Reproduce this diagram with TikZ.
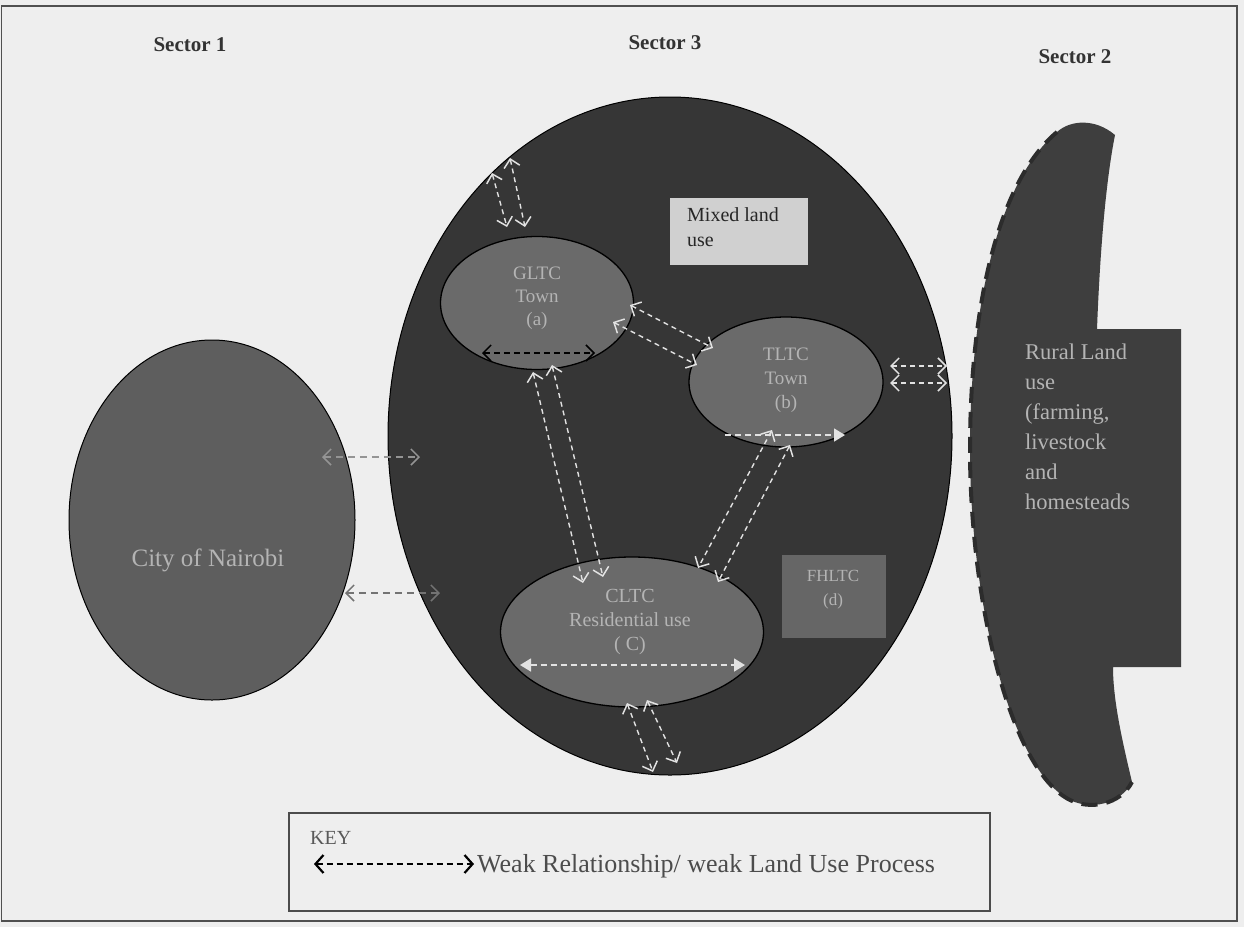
\documentclass[tikz,border=0pt]{standalone}
\usepackage{fontspec}
\setmainfont{Liberation Serif}
\usetikzlibrary{shapes.geometric,arrows.meta}

\definecolor{paper}{HTML}{EEEEEE}
\definecolor{framecol}{HTML}{505050}
\definecolor{cityfill}{HTML}{5E5E5E}
\definecolor{zonefill}{HTML}{363636}
\definecolor{townfill}{HTML}{6A6A6A}
\definecolor{ruralfill}{HTML}{3E3E3E}
\definecolor{ruraledge}{HTML}{2C2C2C}
\definecolor{mixfill}{HTML}{D0D0D0}
\definecolor{fhfill}{HTML}{666666}
\definecolor{lighttext}{HTML}{B4B4B4}
\definecolor{labeltext}{HTML}{333333}
\definecolor{arrw}{HTML}{E2E2E2}

\tikzset{
  sectorlbl/.style={font=\bfseries\fontsize{21}{25}\selectfont, text=labeltext},
  area/.style={ellipse, draw=black, line width=1pt, inner sep=0pt},
  town/.style={area, fill=townfill, line width=1.3pt},
  lighttxt/.style={text=lighttext, align=center, inner sep=0pt},
  barb/.tip={Straight Barb[length=8pt,width=16pt,line width=1.5pt]},
  wlink/.style={draw=arrw, line width=1.4pt, dash pattern=on 5pt off 4pt, barb-barb},
  glink/.style={line width=1.8pt, dash pattern=on 7pt off 5pt, barb-barb},
  blink/.style={draw=black, line width=1.6pt, dash pattern=on 6pt off 4pt, barb-barb},
  solidtip/.tip={Triangle[length=11pt,width=13pt]},
}

\begin{document}
\begin{tikzpicture}[x=1pt,y=-1pt]
  \useasboundingbox (0,0) rectangle (1244,927);
  \fill[paper] (0,0) rectangle (1244,927);
  \draw[framecol, line width=1.5pt] (1.5,6) rectangle (1237,921);

  % sector headings
  \node[sectorlbl] (s1) at (190,45) {Sector 1};
  \node[sectorlbl] (s3) at (665,43) {Sector 3};
  \node[sectorlbl] (s2) at (1075,57) {Sector 2};

  % sector 1: the city
  \node[area, fill=cityfill, minimum width=286pt, minimum height=360pt] (city) at (212,520) {};
  \node[lighttxt, font=\fontsize{25}{30}\selectfont] (citytxt) at (208,560) {City of Nairobi};

  % sector 3: the peri-urban zone
  \node[area, fill=zonefill, minimum width=564pt, minimum height=678pt] (zone) at (670,436) {};

  % sector 2: rural land, crescent with a tab
  \fill[ruralfill] (1115,135) .. controls (1095,118) and (1070,120) .. (1057,132)
      .. controls (1000,180) and (970,300) .. (970,450)
      .. controls (970,600) and (1010,770) .. (1070,800)
      .. controls (1090,810) and (1120,805) .. (1132,782)
      .. controls (1122,740) and (1113,700) .. (1113,667)
      -- (1181,667) -- (1181,329) -- (1097,329)
      .. controls (1100,250) and (1106,180) .. (1115,135) -- cycle;
  \draw[ruraledge, line width=4pt, dash pattern=on 16pt off 9pt]
      (1057,132) .. controls (1000,180) and (970,300) .. (970,450)
      .. controls (970,600) and (1010,770) .. (1070,800)
      .. controls (1090,810) and (1120,805) .. (1132,782);
  \node[text=lighttext, align=left, inner sep=0pt, anchor=north west,
        font=\fontsize{22.5}{30}\selectfont] (ruraltxt) at (1025,344)
      {Rural Land\\use\\(farming,\\livestock\\and\\homesteads};

  % towns within sector 3
  \node[town, minimum width=193pt, minimum height=133pt] (gltc) at (537,303) {};
  \node[lighttxt, font=\fontsize{19}{23}\selectfont] (gltctxt) at (537,298) {GLTC\\Town\\(a)};
  \node[town, minimum width=194pt, minimum height=130pt] (tltc) at (786,382) {};
  \node[lighttxt, font=\fontsize{19}{24}\selectfont] (tltctxt) at (786,380) {TLTC\\Town\\(b)};
  \node[town, minimum width=263pt, minimum height=150pt] (cltc) at (632,632) {};
  \node[lighttxt, font=\fontsize{20}{24}\selectfont] (cltctxt) at (630,622) {CLTC\\Residential use\\( C)};

  % boxes
  \node[fill=mixfill, minimum width=138pt, minimum height=67pt, inner sep=0pt] (mixed) at (739,231.5) {};
  \node[anchor=north west, align=left, inner sep=0pt, text=black!85,
        font=\fontsize{20}{25}\selectfont] (mixedtxt) at (687,207) {Mixed land\\use};
  \node[fill=fhfill, minimum width=104pt, minimum height=83pt, inner sep=0pt] (fh) at (834,596.5) {};
  \node[lighttxt, font=\fontsize{17}{24}\selectfont] (fhtxt) at (833,590) {FHLTC\\(d)};

  % link end points
  \coordinate (a1) at (492,173); \coordinate (a2) at (507,227);
  \coordinate (a3) at (510,158); \coordinate (a4) at (525,227);
  \coordinate (b1) at (630,305); \coordinate (b2) at (713,348);
  \coordinate (b3) at (613,322); \coordinate (b4) at (697,365);
  \coordinate (c1) at (533,372); \coordinate (c2) at (583,583);
  \coordinate (c3) at (552,365); \coordinate (c4) at (603,577);
  \coordinate (d1) at (772,430); \coordinate (d2) at (698,568);
  \coordinate (d3) at (790,445); \coordinate (d4) at (718,582);
  \coordinate (e1) at (627,703); \coordinate (e2) at (653,772);
  \coordinate (e3) at (647,700); \coordinate (e4) at (677,763);
  \coordinate (f1) at (890,366); \coordinate (f2) at (947,366);
  \coordinate (f3) at (890,383); \coordinate (f4) at (947,383);
  \coordinate (g1) at (322,457); \coordinate (g2) at (420,457);
  \coordinate (g3) at (345,593); \coordinate (g4) at (440,593);
  \coordinate (h1) at (482,353); \coordinate (h2) at (595,353);
  \coordinate (t1) at (725,435); \coordinate (t2) at (845,435);
  \coordinate (r1) at (520,665); \coordinate (r2) at (745,665);

  % double dashed links
  \draw[wlink] (a1) -- (a2);  \draw[wlink] (a3) -- (a4);
  \draw[wlink] (b1) -- (b2);  \draw[wlink] (b3) -- (b4);
  \draw[wlink] (c1) -- (c2);  \draw[wlink] (c3) -- (c4);
  \draw[wlink] (d1) -- (d2);  \draw[wlink] (d3) -- (d4);
  \draw[wlink] (e1) -- (e2);  \draw[wlink] (e3) -- (e4);
  \draw[wlink] (f1) -- (f2);  \draw[wlink] (f3) -- (f4);

  % city links
  \draw[glink, draw=black!42] (g1) -- (g2);
  \draw[glink, draw=black!55] (g3) -- (g4);

  % links within towns
  \draw[blink] (h1) -- (h2);
  \draw[draw=arrw, line width=1.6pt, dash pattern=on 6pt off 4pt, -{solidtip}, arrw] (t1) -- (t2);
  \draw[draw=arrw, line width=1.6pt, dash pattern=on 6pt off 4pt, {solidtip}-{solidtip}, arrw] (r1) -- (r2);

  % key
  \node[draw=black!70, line width=1.5pt, minimum width=701pt, minimum height=98pt, inner sep=0pt] (keybox) at (639.5,862) {};
  \node[anchor=west, inner sep=0pt, text=black!65, font=\fontsize{20}{24}\selectfont] (keytitle) at (310,838) {KEY};
  \coordinate (k1) at (314,864); \coordinate (k2) at (474,864);
  \draw[draw=black, line width=1.8pt, dash pattern=on 6pt off 4pt,
        {Straight Barb[length=8pt,width=18pt,line width=2.2pt]}-{Straight Barb[length=8pt,width=18pt,line width=2.2pt]}] (k1) -- (k2);
  \node[anchor=west, inner sep=0pt, text=black!70, font=\fontsize{26}{30}\selectfont] (keytxt) at (477,866) {Weak Relationship/ weak Land Use Process};
\end{tikzpicture}
\end{document}
